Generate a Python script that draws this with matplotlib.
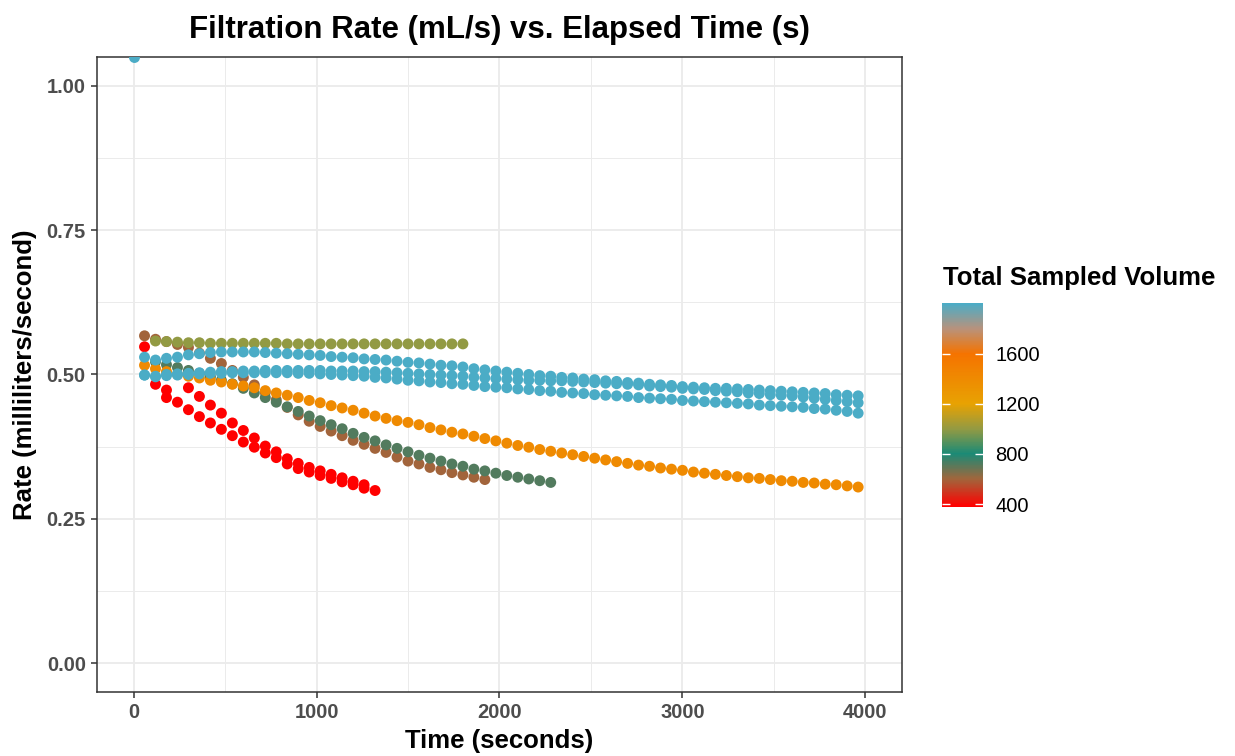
import matplotlib
matplotlib.use("Agg")
import matplotlib.pyplot as plt
import numpy as np
from matplotlib.colors import LinearSegmentedColormap, Normalize
from matplotlib.cm import ScalarMappable
from matplotlib.ticker import MultipleLocator

plt.rcParams['font.family'] = ['Liberation Sans', 'DejaVu Sans']

# sampling times (s)
times = [60, 120, 180, 240, 300, 360, 420, 480, 540, 600,
         660, 720, 780, 840, 900, 960, 1020, 1080, 1140, 1200,
         1260, 1320, 1380, 1440, 1500, 1560, 1620, 1680, 1740, 1800,
         1860, 1920, 1980, 2040, 2100, 2160, 2220, 2280, 2340, 2400,
         2460, 2520, 2580, 2640, 2700, 2760, 2820, 2880, 2940, 3000,
         3060, 3120, 3180, 3240, 3300, 3360, 3420, 3480, 3540, 3600,
         3660, 3720, 3780, 3840, 3900, 3960]

# total sampled volume of each run (mL)
vol_red = 380
vol_brown = 600
vol_green = 720
vol_olive = 1000
vol_orange = 1400
vol_blue = 2000

# rates (mL/s)
rate_red_a = [0.548, 0.483, 0.460, 0.452, 0.439, 0.427, 0.416, 0.405, 0.394, 0.383,
              0.374, 0.364, 0.356, 0.345, 0.337, 0.331, 0.325, 0.320, 0.314, 0.309,
              0.303, 0.299]
rate_red_b = [0.473, None, 0.477, 0.462, 0.447, 0.433, 0.416, 0.403,
              0.390, 0.376, 0.366, 0.354, 0.346, 0.339, 0.333, 0.327, 0.321, 0.315,
              0.309]
rate_brown = [0.567, 0.561, 0.557, 0.552, 0.547, 0.537, 0.528, 0.519, 0.507, 0.495,
              0.482, 0.469, 0.456, 0.443, 0.430, 0.419, 0.410, 0.402, 0.394, 0.386,
              0.379, 0.372, 0.365, 0.357, 0.350, 0.345, 0.339, 0.335, 0.330, 0.326,
              0.322, 0.318]
rate_green = [0.522, 0.517, 0.512, 0.507, 0.502, 0.496, 0.490, 0.484, 0.476,
              0.468, 0.460, 0.452, 0.444, 0.436, 0.428, 0.420, 0.413, 0.406, 0.398,
              0.391, 0.385, 0.378, 0.372, 0.366, 0.360, 0.355, 0.350, 0.345, 0.341,
              0.336, 0.333, 0.329, 0.325, 0.322, 0.319, 0.316, 0.313]
rate_olive = [0.558, 0.557, 0.556, 0.555, 0.555, 0.554, 0.554, 0.554, 0.554,
              0.554, 0.554, 0.554, 0.553, 0.553, 0.553, 0.553, 0.553, 0.553, 0.553,
              0.553, 0.553, 0.553, 0.553, 0.553, 0.553, 0.553, 0.553, 0.553, 0.553]
rate_orange = [0.516, 0.510, 0.505, 0.500, 0.497, 0.494, 0.490, 0.487, 0.483, 0.480,
               0.477, 0.472, 0.468, 0.464, 0.460, 0.455, 0.451, 0.446, 0.442, 0.438,
               0.433, 0.428, 0.424, 0.420, 0.417, 0.413, 0.408, 0.404, 0.400, 0.397,
               0.393, 0.389, 0.385, 0.381, 0.377, 0.374, 0.370, 0.367, 0.364, 0.361,
               0.358, 0.355, 0.352, 0.349, 0.346, 0.343, 0.341, 0.338, 0.336, 0.334,
               0.331, 0.329, 0.327, 0.325, 0.323, 0.321, 0.320, 0.318, 0.316, 0.315,
               0.313, 0.312, 0.310, 0.309, 0.307, 0.305]
rate_blue_a = [0.530, 0.525, 0.528, 0.530, 0.534, 0.536, 0.538, 0.539, 0.539, 0.539,
               0.539, 0.538, 0.537, 0.536, 0.535, 0.534, 0.533, 0.531, 0.530, 0.529,
               0.527, 0.526, 0.525, 0.523, 0.521, 0.520, 0.518, 0.516, 0.515, 0.513,
               0.510, 0.508, 0.506, 0.504, 0.502, 0.500, 0.498, 0.497, 0.495, 0.494,
               0.492, 0.491, 0.489, 0.488, 0.486, 0.485, 0.483, 0.482, 0.481, 0.479,
               0.478, 0.477, 0.476, 0.476, 0.475, 0.474, 0.473, 0.472, 0.471, 0.470,
               0.469, 0.468, 0.467, 0.465, 0.464, 0.463]
rate_blue_b = [0.499, 0.497, 0.500, 0.501, 0.502, 0.503, 0.504, 0.505, 0.505, 0.506,
               0.506, 0.507, 0.507, 0.507, 0.507, 0.507, 0.507, 0.506, 0.506, 0.506,
               0.505, 0.505, 0.504, 0.503, 0.502, 0.501, 0.500, 0.499, 0.498, 0.497,
               0.495, 0.494, 0.493, 0.492, 0.491, 0.490, 0.490, 0.489, 0.489, 0.488,
               0.487, 0.486, 0.485, 0.484, 0.483, 0.482, 0.480, 0.479, 0.478, 0.476,
               0.475, 0.474, 0.472, 0.471, 0.470, 0.468, 0.467, 0.465, 0.464, 0.463,
               0.461, 0.459, 0.457, 0.455, 0.453, 0.451]
rate_blue_c = [0.499, 0.496, 0.498, 0.499, 0.500, 0.501, 0.502, 0.502, 0.503, 0.503,
               0.503, 0.503, 0.503, 0.503, 0.502, 0.502, 0.501, 0.500, 0.499, 0.498,
               0.497, 0.495, 0.494, 0.492, 0.490, 0.489, 0.487, 0.486, 0.484, 0.483,
               0.481, 0.479, 0.478, 0.477, 0.475, 0.474, 0.472, 0.471, 0.469, 0.468,
               0.467, 0.465, 0.464, 0.463, 0.462, 0.460, 0.459, 0.458, 0.457, 0.455,
               0.454, 0.453, 0.452, 0.451, 0.450, 0.449, 0.447, 0.446, 0.445, 0.444,
               0.443, 0.441, 0.440, 0.438, 0.436, 0.433]

# first reading of one run, taken at t = 0
first_time = [0]
first_rate = [1.05]

# (start time, rates, volume), drawn in this order
runs = [
    (60, rate_red_a, vol_red),
    (180, rate_red_b, vol_red),
    (60, rate_brown, vol_brown),
    (120, rate_green, vol_green),
    (120, rate_olive, vol_olive),
    (60, rate_orange, vol_orange),
    (60, rate_blue_a, vol_blue),
    (60, rate_blue_b, vol_blue),
    (60, rate_blue_c, vol_blue),
]

# colour scale
vmin, vmax = 380, 2000
stops = [(380, '#ff0000'), (600, '#a0663c'), (800, '#1b8a76'), (1000, '#949a42'),
         (1200, '#e8a202'), (1600, '#f57300'), (1800, '#b8927c'), (2000, '#4bacc6')]
cmap = LinearSegmentedColormap.from_list(
    'vol', [((v - vmin) / (vmax - vmin), c) for v, c in stops])
norm = Normalize(vmin=vmin, vmax=vmax)

fig = plt.figure(figsize=(12.35, 7.56), dpi=100)
ax = fig.add_axes([0.0785, 0.0847, 0.6519, 0.8399])

pt_size = 62
for start, rates, vol in runs:
    i0 = times.index(start)
    x = times[i0:i0 + len(rates)]
    y = np.array([np.nan if r is None else r for r in rates], dtype=float)
    ax.scatter(x, y, c=[vol] * len(x), cmap=cmap, norm=norm, s=pt_size,
               linewidths=0, zorder=3)
ax.scatter(first_time, first_rate, c=[vol_blue], cmap=cmap, norm=norm, s=pt_size,
           linewidths=0, zorder=3)

ax.set_xlim(-200, 4200)
ax.set_ylim(-0.05, 1.05)
ax.set_xticks([0, 1000, 2000, 3000, 4000])
ax.set_yticks([0.0, 0.25, 0.5, 0.75, 1.0])
ax.set_yticklabels(['0.00', '0.25', '0.50', '0.75', '1.00'])
ax.xaxis.set_minor_locator(MultipleLocator(500))
ax.yaxis.set_minor_locator(MultipleLocator(0.125))
ax.grid(which='major', color='#ebebeb', linewidth=1.3, zorder=0)
ax.grid(which='minor', color='#ebebeb', linewidth=0.7, zorder=0)
ax.set_axisbelow(True)
for s in ax.spines.values():
    s.set_color('#333333')
    s.set_linewidth(1.1)
ax.tick_params(which='major', length=4, width=1.1, color='#333333', pad=4,
               labelsize=14.5, labelcolor='#4d4d4d')
ax.tick_params(which='minor', length=0)
for lab in ax.get_xticklabels() + ax.get_yticklabels():
    lab.set_fontweight('bold')

fig.text(0.4045, 0.960, 'Filtration Rate (mL/s) vs. Elapsed Time (s)',
         ha='center', va='center', fontsize=22.5, fontweight='bold')
fig.text(0.4045, 0.020, 'Time (seconds)', ha='center', va='center',
         fontsize=18.5, fontweight='bold')
fig.text(0.0202, 0.504, 'Rate (milliliters/second)', ha='center', va='center',
         rotation=90, fontsize=18.5, fontweight='bold')

# colour bar legend
cax = fig.add_axes([0.7625, 0.3298, 0.0332, 0.269])
sm = ScalarMappable(norm=norm, cmap=cmap)
cb = fig.colorbar(sm, cax=cax, ticks=[400, 800, 1200, 1600])
cb.outline.set_visible(False)
cb.minorticks_off()
cax.yaxis.set_ticks_position('both')
cax.tick_params(direction='in', length=6, width=1.0, color='white', pad=9,
                labelsize=14.5, labelcolor='black', labelleft=False, labelright=True)
fig.text(0.7635, 0.632, 'Total Sampled Volume', ha='left', va='center',
         fontsize=18.5, fontweight='bold')

fig.savefig('out.png', dpi=100)
